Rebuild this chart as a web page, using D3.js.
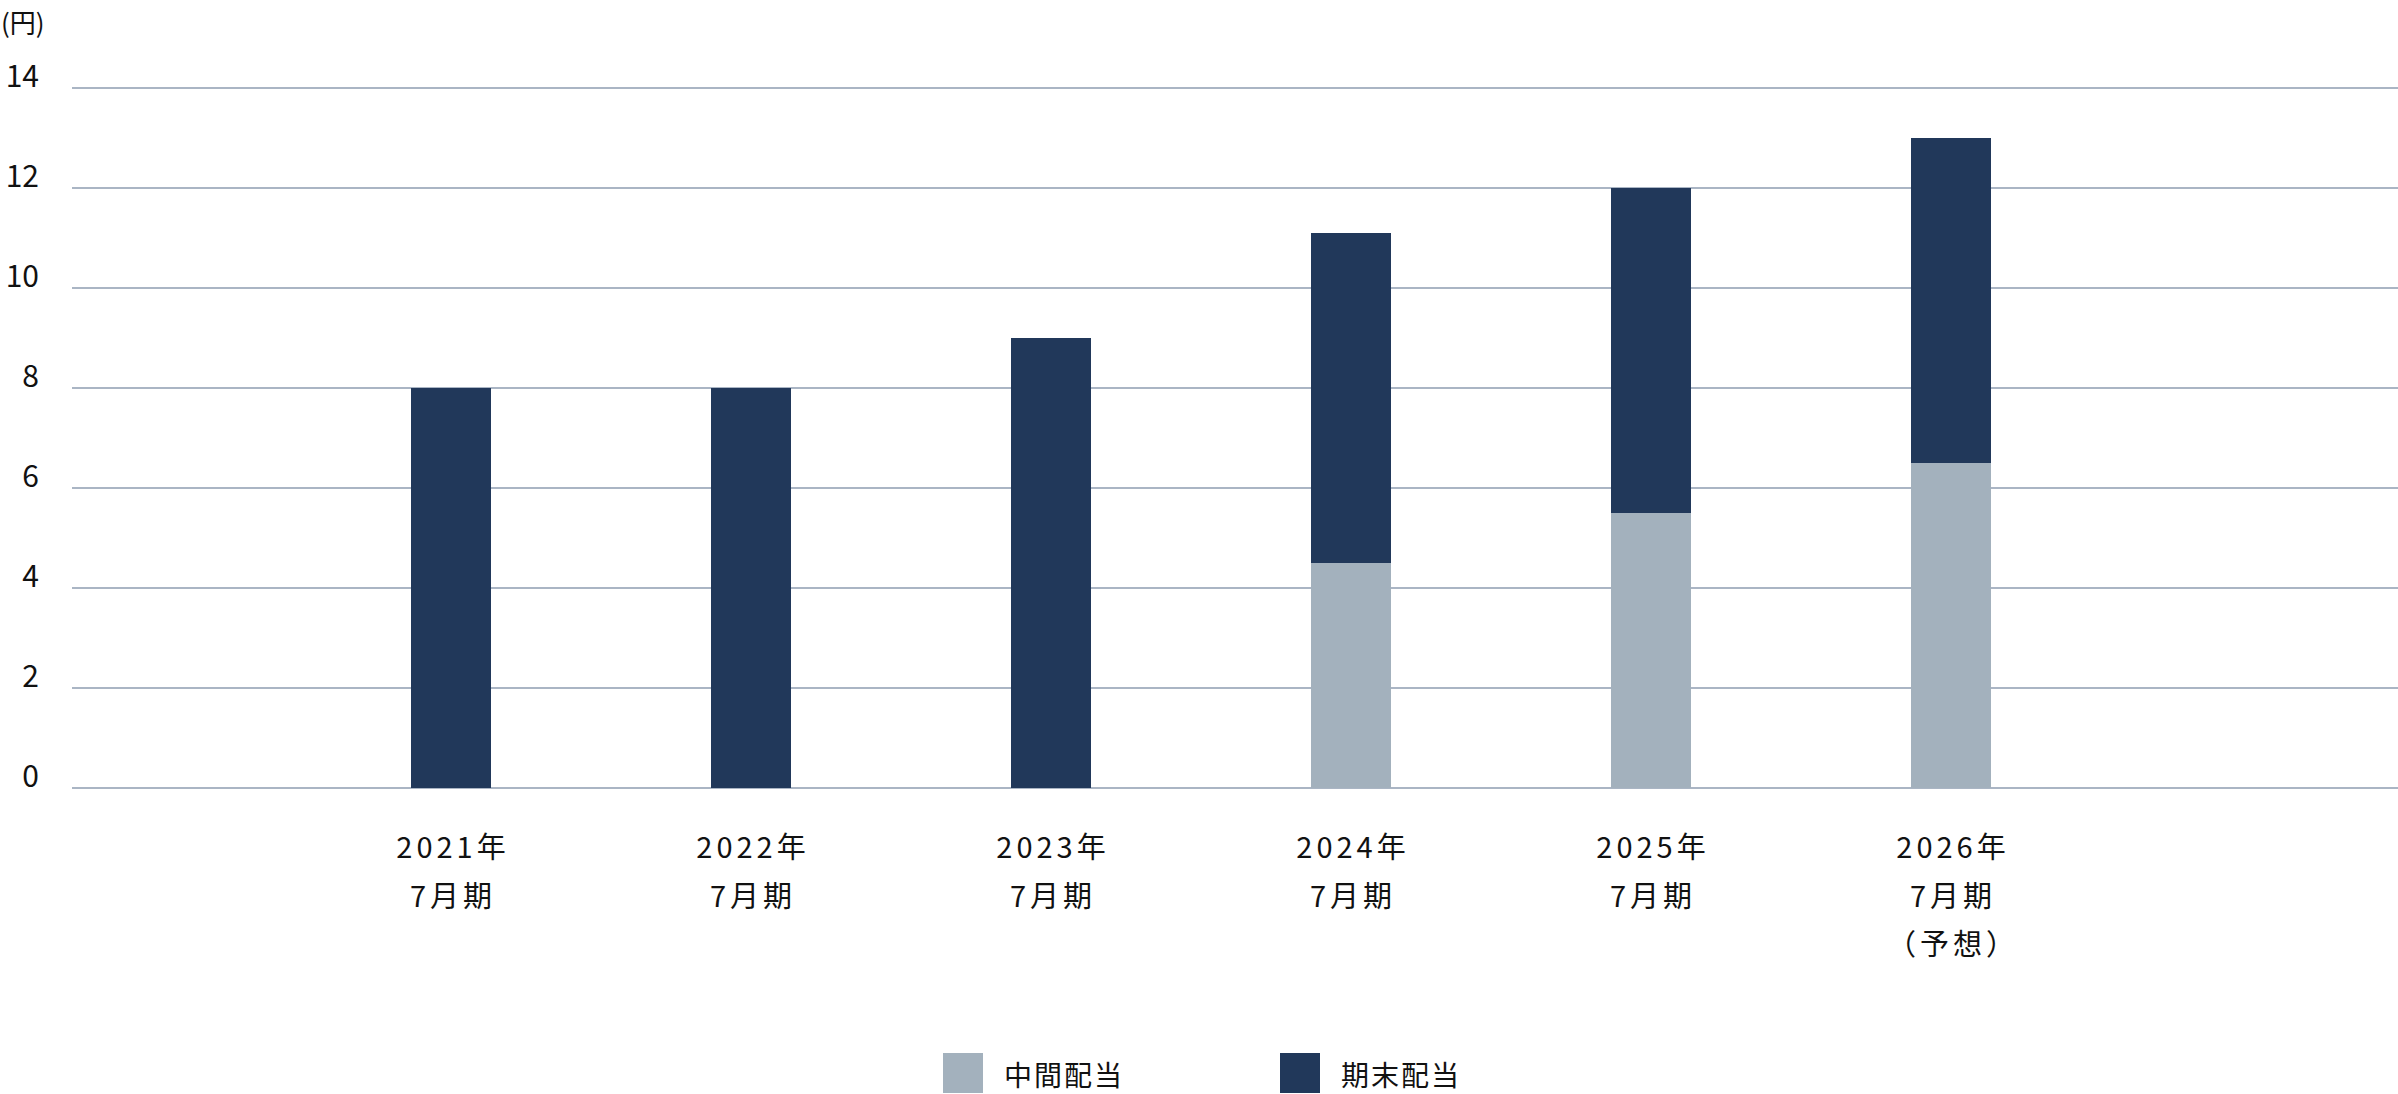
<!DOCTYPE html>
<html>
<head>
<meta charset="utf-8">
<script src="https://cdn.jsdelivr.net/npm/d3@7"></script>
<style>
html,body{margin:0;padding:0;background:#fff;}
svg{display:block;}
text{font-family:"Noto Sans CJK JP","Noto Sans",sans-serif;fill:#111;}
</style>
</head>
<body>
<svg id="chart" width="2398" height="1094"></svg>
<script>
const categories = ["2021年|7月期", "2022年|7月期", "2023年|7月期", "2024年|7月期", "2025年|7月期", "2026年|7月期|（予想）"];
const interim = [0, 0, 0, 4.5, 5.5, 6.5];
const yearEnd = [8, 8, 9, 6.6, 6.5, 6.5];
const yTicks = [0, 2, 4, 6, 8, 10, 12, 14];
const seriesNames = ["中間配当", "期末配当"];
const colors = ["#a3b1bd", "#21385a"];

const svg = d3.select("#chart");
const W = 2398, H = 1094;

const x = d3.scaleBand().domain(categories).range([301, 2101])
  .paddingInner(1 - 80/300).paddingOuter((1 - 80/300)/2);
const y = d3.scaleLinear().domain([0, 14]).range([788, 88]);

// gridlines
svg.append("g").selectAll("line").data(yTicks).join("line")
  .attr("x1", 72).attr("x2", W)
  .attr("y1", d => y(d)).attr("y2", d => y(d))
  .attr("stroke", "#8e9db0").attr("stroke-width", 1.5);

// y tick labels
svg.append("g").selectAll("text").data(yTicks).join("text")
  .attr("x", 39).attr("y", d => y(d) - 1)
  .attr("text-anchor", "end")
  .style("font-size", "30px")
  .text(d => d);

svg.append("text").attr("x", 1).attr("y", 33)
  .style("font-size", "26px").text("(円)");

// stacked bars
const rows = categories.map((c, i) => ({cat: c, interim: interim[i], yearEnd: yearEnd[i]}));
const stack = d3.stack().keys(["interim", "yearEnd"])(rows);
svg.append("g").selectAll("g").data(stack).join("g")
  .attr("fill", (d, i) => colors[i])
  .selectAll("rect").data(d => d).join("rect")
  .attr("x", d => x(d.data.cat))
  .attr("width", x.bandwidth())
  .attr("y", d => y(d[1]))
  .attr("height", d => y(d[0]) - y(d[1]));

// x labels
const xl = svg.append("g").selectAll("text").data(categories).join("text")
  .attr("text-anchor", "middle")
  .attr("x", d => x(d) + x.bandwidth()/2 + 2)
  .attr("y", 858)
  .style("font-size", "29px")
  .style("letter-spacing", "4px");
xl.selectAll("tspan").data(d => d.split("|")).join("tspan")
  .attr("x", function() { const p = this.parentNode; return +p.getAttribute("x"); })
  .attr("dy", (d, i) => i === 0 ? 0 : 48.5)
  .text(d => d);

// legend
const legendX = [943, 1280];
const lg = svg.append("g").selectAll("g").data(seriesNames).join("g")
  .attr("transform", (d, i) => `translate(${legendX[i]},1053)`);
lg.append("rect").attr("width", 40).attr("height", 40).attr("fill", (d, i) => colors[i]);
lg.append("text").attr("x", 61).attr("y", 33)
  .style("font-size", "28px").style("letter-spacing", "2px").text(d => d);
</script>
</body>
</html>
